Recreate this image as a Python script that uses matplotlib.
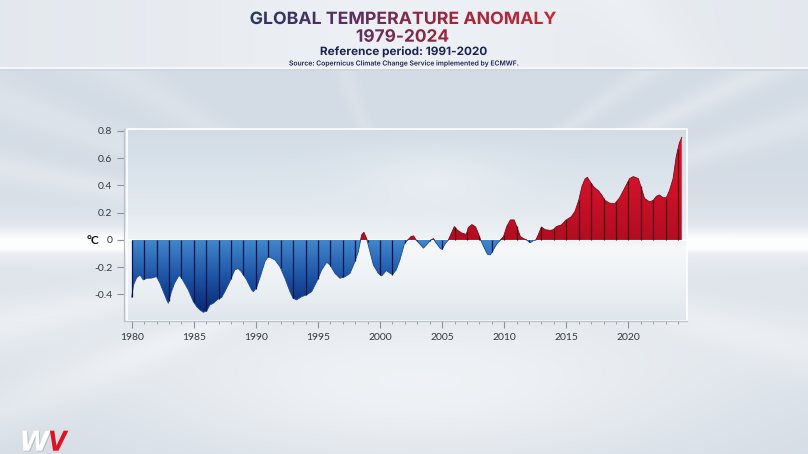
import numpy as np
import matplotlib
matplotlib.use('Agg')
import matplotlib.pyplot as plt
from matplotlib.colors import LinearSegmentedColormap, to_rgb
from matplotlib.patches import PathPatch, Rectangle
from matplotlib.textpath import TextPath
from matplotlib.font_manager import FontProperties
from matplotlib.transforms import Affine2D

# 12-month mean anomaly (deg C)
years = [1980.0, 1980.15, 1980.4, 1980.67, 1980.94, 1981.2, 1981.6, 1982.0, 1982.28, 1982.55,
         1982.82, 1982.95, 1983.2, 1983.45, 1983.75, 1983.88, 1984.1, 1984.56, 1984.96, 1985.23,
         1985.5, 1985.77, 1986.04, 1986.3, 1986.57, 1986.97, 1987.24, 1987.5, 1987.9, 1988.3,
         1988.57, 1988.8, 1989.26, 1989.66, 1989.8, 1990.06, 1990.4, 1990.73, 1990.99, 1991.27,
         1991.54, 1991.94, 1992.34, 1992.75, 1993.0, 1993.28, 1993.69, 1994.09, 1994.49, 1994.9,
         1995.3, 1995.7, 1995.97, 1996.37, 1996.77, 1997.18, 1997.58, 1997.98, 1998.25, 1998.52,
         1998.7, 1998.92, 1999.19, 1999.46, 1999.86, 2000.13, 2000.5, 2001.0, 2001.3, 2001.6,
         2001.97, 2002.24, 2002.5, 2002.7, 2002.9, 2003.2, 2003.5, 2003.85, 2004.1, 2004.3,
         2004.5, 2004.83, 2005.0, 2005.23, 2005.5, 2005.8, 2005.98, 2006.25, 2006.6, 2006.95,
         2007.1, 2007.4, 2007.7, 2007.95, 2008.1, 2008.4, 2008.65, 2008.87, 2009.05, 2009.4,
         2009.7, 2009.95, 2010.2, 2010.5, 2010.8, 2011.0, 2011.3, 2011.55, 2011.8, 2012.1,
         2012.35, 2012.55, 2012.75, 2013.0, 2013.3, 2013.7, 2013.95, 2014.2, 2014.6, 2015.0,
         2015.4, 2015.7, 2016.0, 2016.25, 2016.5, 2016.7, 2016.9, 2017.2, 2017.6, 2017.85,
         2018.1, 2018.5, 2018.9, 2019.3, 2019.7, 2020.1, 2020.4, 2020.8, 2021.05, 2021.3,
         2021.7, 2022.0, 2022.25, 2022.5, 2022.8, 2023.05, 2023.3, 2023.6, 2023.85, 2024.1,
         2024.3]
anomaly = [-0.42, -0.33, -0.277, -0.257, -0.293, -0.281, -0.28, -0.269, -0.318, -0.379,
           -0.44, -0.465, -0.38, -0.318, -0.27, -0.262, -0.293, -0.367, -0.452, -0.489,
           -0.514, -0.531, -0.521, -0.477, -0.465, -0.433, -0.423, -0.38, -0.306, -0.22,
           -0.21, -0.23, -0.293, -0.367, -0.38, -0.35, -0.257, -0.159, -0.122, -0.134,
           -0.147, -0.196, -0.281, -0.38, -0.428, -0.44, -0.416, -0.403, -0.38, -0.306,
           -0.22, -0.164, -0.183, -0.245, -0.281, -0.27, -0.245, -0.159, -0.086, 0.037,
           0.056, 0.01, -0.086, -0.183, -0.245, -0.264, -0.225, -0.255, -0.22, -0.147,
           -0.025, 0.0, 0.025, 0.03, 0.0, -0.03, -0.06, -0.025, 0.0, 0.01,
           -0.02, -0.06, -0.07, -0.03, 0.0, 0.06, 0.098, 0.07, 0.05, 0.04,
           0.09, 0.113, 0.095, 0.04, 0.0, -0.06, -0.105, -0.11, -0.085, -0.03,
           0.0, 0.025, 0.098, 0.147, 0.147, 0.1, 0.025, 0.01, 0.0, -0.02,
           -0.005, 0.0, 0.04, 0.095, 0.075, 0.07, 0.075, 0.098, 0.11, 0.147,
           0.17, 0.21, 0.29, 0.39, 0.446, 0.46, 0.43, 0.39, 0.36, 0.33,
           0.29, 0.27, 0.265, 0.31, 0.38, 0.45, 0.465, 0.45, 0.38, 0.305,
           0.28, 0.29, 0.32, 0.33, 0.31, 0.31, 0.36, 0.45, 0.61, 0.71,
           0.753]

year_ticks = [1980, 1985, 1990, 1995, 2000, 2005, 2010, 2015, 2020]
y_ticks = [-0.4, -0.2, 0, 0.2, 0.4, 0.6, 0.8]
y_labels = ['-0.4', '-0.2', '0', '0.2', '0.4', '0.6', '0.8']

title = 'GLOBAL TEMPERATURE ANOMALY'
period = '1979-2024'
subtitle = 'Reference period: 1991-2020'
source = 'Source: Copernicus Climate Change Service implemented by ECMWF.'

W, H = 808, 454
fig = plt.figure(figsize=(W / 100, H / 100), dpi=100)

# ---- background (pixel coordinates, y down)
bg = fig.add_axes([0, 0, 1, 1])
bg.set_xlim(0, W)
bg.set_ylim(H, 0)
bg.axis('off')

yy, xx = np.mgrid[0:H, 0:W] + 0.5
base = np.array(to_rgb('#d3dbe4'))
g = 0.7 * np.exp(-((yy - 243) / 13) ** 2)
g += 0.3 * np.exp(-((yy - 243) / 45) ** 2)
g += 0.55 * np.exp(-((yy - 400) / 75) ** 2) * np.exp(-((xx - 420) / 320) ** 2)
g += 0.25 * np.exp(-((yy - 330) / 60) ** 2)
ang = np.arctan2(yy - 245, xx - 404)
for a, w, amp in [(-2.95, 0.04, 0.28), (-2.8, 0.05, 0.22), (-2.6, 0.06, 0.18), (2.95, 0.05, 0.25),
                  (2.75, 0.06, 0.2), (-0.45, 0.035, 0.3), (-0.3, 0.04, 0.25), (-0.62, 0.04, 0.2),
                  (0.25, 0.06, 0.2), (-1.9, 0.06, 0.15)]:
    g += amp * np.exp(-((ang - a) / w) ** 2)
g -= 0.12 * np.exp(-((yy - 254) / 3) ** 2) * (np.abs(xx - 404) > 250)
g = np.clip(g, -0.2, 0.95)
img = base + (1 - base) * g[..., None]
head = np.array(to_rgb('#e3e8ee'))
hg = 0.35 * np.exp(-((xx[:68] - 404) / 260) ** 2) + 0.15 * np.exp(-((xx[:68] - 0.9 * yy[:68] - 620) / 40) ** 2)
img[:68] = head + (1 - head) * np.clip(hg, 0, 1)[..., None]
img[67:69] = np.array(to_rgb('#f4f6f9'))
img[69:71] = np.array(to_rgb('#cfd7e0'))
bg.imshow(np.clip(img, 0, 1), extent=[0, W, H, 0], aspect='auto', zorder=0)


def path_text(s, x0, x1, baseline, cap, prop, color=None, cmap=None, gx=None):
    tp = TextPath((0, 0), s, size=100, prop=prop)
    hp = TextPath((0, 0), 'H', size=100, prop=prop).get_extents()
    ext = tp.get_extents()
    sx = (x1 - x0) / ext.width
    sy = cap / hp.height
    tr = Affine2D().translate(-ext.x0, 0).scale(sx, -sy).translate(x0, baseline)
    path = tr.transform_path(tp)
    if cmap is None:
        bg.add_patch(PathPatch(path, fc=color, ec='none', zorder=3))
    else:
        patch = PathPatch(path, fc='none', ec='none', zorder=3)
        bg.add_patch(patch)
        grad = np.linspace(0, 1, 256).reshape(1, -1)
        im = bg.imshow(grad, extent=[gx[0], gx[1], baseline + 5, baseline - cap - 5],
                       cmap=cmap, aspect='auto', zorder=3)
        im.set_clip_path(patch)


title_cmap = LinearSegmentedColormap.from_list('t', ['#283765', '#5a3060', '#a0253a', '#c22a36'])
bold = FontProperties(family='Inter', weight='bold')
path_text(title, 250.5, 556, 24, 12.3, bold, cmap=title_cmap, gx=(250, 556))
path_text(period, 356.7, 448.3, 41.7, 12.4, bold, cmap=title_cmap, gx=(250, 556))
path_text(subtitle, 320.7, 486.7, 55, 8.3, bold, color='#1b2452')
path_text(source, 289.3, 518.3, 65.5, 5.0, FontProperties(family='Inter', weight='semibold'),
          color='#1b2452')

logo = FontProperties(family='DejaVu Sans', weight='bold', style='oblique')
path_text('W', 23.5, 51.5, 451.5, 20, logo, color='#b3bbc4')
path_text('W', 22.5, 50.5, 450.7, 20, logo, color='white')
path_text('V', 50, 68.3, 450.7, 20, logo, color='#e1111f')

# ---- chart
x_left, x_right = 1979.38, 2024.72
y_low, y_high = -0.595, 0.815
ax = fig.add_axes([124 / W, (H - 321) / H, (687 - 124) / W, (321 - 128.9) / H])
ax.patch.set_alpha(0)

# panel
p_x0 = 1979.63
pv = np.linspace(0, 1, 200)
stops = [(0, '#dfe6ec'), (0.22, '#eef2f5'), (0.38, '#f6f8fa'), (0.42, '#eff3f6'),
         (0.55, '#e4eaf0'), (0.8, '#d9e2ea'), (1.0, '#d2dce6')]
panel_cmap = LinearSegmentedColormap.from_list('p', [(p, c) for p, c in stops])
pimg = panel_cmap(pv)[:, :3][:, None, :] * np.ones((1, 300, 1))
ph = np.linspace(0, 1, 300)
glow = 0.3 * np.exp(-((ph - 0.55) / 0.14) ** 2)[None, :] * np.exp(-((pv - 0.75) / 0.15) ** 2)[:, None]
pimg = pimg + (1 - pimg) * glow[..., None]
ax.imshow(pimg, extent=[p_x0, x_right, y_low, y_high], origin='lower', aspect='auto', zorder=0)
ax.add_patch(Rectangle((p_x0, y_low), x_right - p_x0, y_high - y_low, fill=False,
                       ec='white', lw=1.2, zorder=1, clip_on=False))
ax.axhline(0, color='white', lw=1.2, zorder=1.5, xmin=(p_x0 - x_left) / (x_right - x_left))

x = np.array(years)
y = np.array(anomaly)
xs, ys = [x[0]], [y[0]]
for i in range(1, len(x)):
    if y[i - 1] * y[i] < 0:
        xs.append(x[i - 1] + (x[i] - x[i - 1]) * y[i - 1] / (y[i - 1] - y[i]))
        ys.append(0.0)
    xs.append(x[i])
    ys.append(y[i])
xs, ys = np.array(xs), np.array(ys)

blue_cmap = LinearSegmentedColormap.from_list('b', ['#0a246e', '#1c52a4', '#4287cc'])
red_cmap = LinearSegmentedColormap.from_list('r', ['#b20d22', '#cf1229', '#dc142c'])
grad = np.linspace(0, 1, 256).reshape(-1, 1)

neg = ax.fill_between(xs, np.minimum(ys, 0), 0, color='none', lw=0)
im_b = ax.imshow(grad, extent=[xs[0], xs[-1], -0.55, 0], origin='lower', cmap=blue_cmap,
                 aspect='auto', zorder=2)
im_b.set_clip_path(neg.get_paths()[0], transform=ax.transData)
pos = ax.fill_between(xs, np.maximum(ys, 0), 0, color='none', lw=0)
im_r = ax.imshow(grad, extent=[xs[0], xs[-1], 0, 0.78], origin='lower', cmap=red_cmap,
                 aspect='auto', zorder=2)
im_r.set_clip_path(pos.get_paths()[0], transform=ax.transData)

ax.plot(xs, np.where(ys <= 0, ys, np.nan), color='#1a4a98', lw=0.6, zorder=3)
ax.plot(xs, np.where(ys >= 0, ys, np.nan), color='#7a0a18', lw=0.6, zorder=3)

for yr in range(1980, 2025):
    v = np.interp(yr, x, y)
    ax.vlines(yr, 0, v, color='#07164a' if v < 0 else '#50000e', lw=0.9, zorder=3)

ax.set_xlim(x_left, x_right)
ax.set_ylim(y_low, y_high)

for s in ['top', 'right']:
    ax.spines[s].set_visible(False)
for s in ['left', 'bottom']:
    ax.spines[s].set_color('#b8c0c9')
    ax.spines[s].set_linewidth(0.9)

tick_font = {'family': 'Lato'}
ax.set_yticks(y_ticks)
ax.set_yticklabels(y_labels, fontdict=tick_font)
ax.set_xticks(year_ticks)
ax.set_xticklabels([str(t) for t in year_ticks], fontdict=tick_font)
ax.set_xticks(range(1980, 2025), minor=True)
ax.tick_params(axis='y', length=5, width=0.8, color='#8a929b', labelsize=7.5,
               labelcolor='#333a42', pad=3.5)
ax.tick_params(axis='x', which='major', length=5, width=0.8, color='#8a929b', labelsize=7.5,
               labelcolor='#333a42', pad=3.5)
ax.tick_params(axis='x', which='minor', length=2.5, width=0.6, color='#8a929b')

fig.text(93 / W, 1 - 240.5 / H, '°C', ha='center', va='center', fontsize=8.5,
         fontweight='bold', family='Lato', color='#111111')

fig.savefig('out.png', dpi=100)
